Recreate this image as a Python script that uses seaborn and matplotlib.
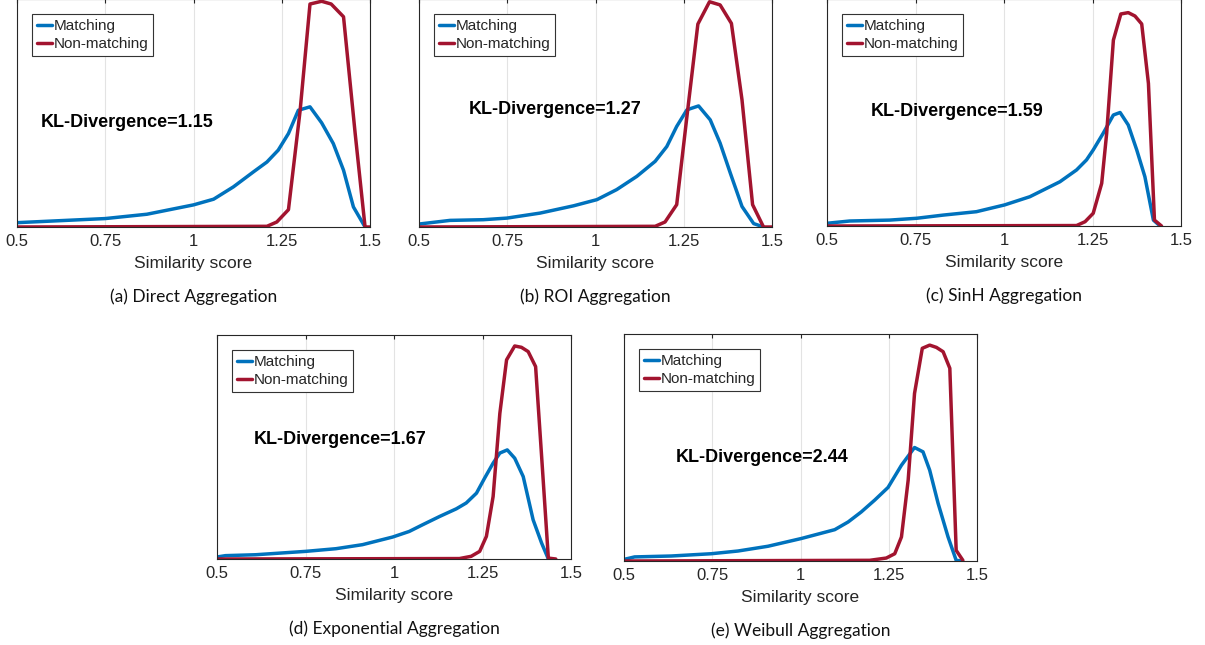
import numpy as np
import pandas as pd
import matplotlib.pyplot as plt
import seaborn as sns

# values, y in % of axes height
a_match_x = [0.5, 0.75, 0.868, 1.0, 1.057, 1.113, 1.17, 1.208, 1.24, 1.269, 1.297, 1.33, 1.363, 1.396, 1.425, 1.453, 1.486]
a_match_y = [1.9, 3.7, 5.6, 9.7, 12.2, 17.6, 24.2, 28.5, 33.7, 41, 51.2, 52.7, 45.7, 36.6, 24.9, 8.8, 0]
a_non_x = [0.5, 1.208, 1.236, 1.269, 1.302, 1.33, 1.363, 1.39, 1.425, 1.458, 1.486, 1.5]
a_non_y = [0, 0.3, 2.2, 7.6, 51, 97.8, 99, 97.8, 92.2, 41, 0, 0]

b_match_x = [0.5, 0.588, 0.682, 0.749, 0.843, 0.938, 1.004, 1.06, 1.117, 1.169, 1.202, 1.23, 1.259, 1.292, 1.325, 1.353, 1.382, 1.415, 1.448, 1.476]
b_match_y = [1.3, 2.9, 3.2, 3.9, 6.1, 9.3, 12, 16.4, 22.2, 28.8, 35.3, 44.1, 51.4, 53.1, 47, 36.8, 23.6, 9, 1.5, 0]
b_non_x = [0.5, 1.169, 1.197, 1.23, 1.259, 1.29, 1.323, 1.353, 1.385, 1.415, 1.445, 1.476, 1.5]
b_non_y = [0, 0.3, 2.2, 9.8, 48.5, 89, 98.8, 97.4, 89.3, 55.8, 9.8, 0, 0]

c_match_x = [0.5, 0.564, 0.677, 0.753, 0.828, 0.922, 1.002, 1.073, 1.158, 1.205, 1.233, 1.252, 1.28, 1.309, 1.328, 1.351, 1.375, 1.398, 1.422, 1.441]
c_match_y = [1.2, 2.2, 2.6, 3.4, 4.8, 6.3, 9.3, 12.9, 19.5, 24.7, 29.1, 33.5, 40.8, 48.9, 50, 44.5, 33.5, 21.7, 2.6, 0]
c_non_x = [0.5, 1.205, 1.229, 1.252, 1.276, 1.29, 1.309, 1.33, 1.351, 1.37, 1.389, 1.408, 1.425, 1.445]
c_non_y = [0, 0.2, 1.9, 5.6, 18.8, 40.8, 81.9, 93.4, 94, 92.5, 89, 62.8, 2.6, 0]

d_match_x = [0.5, 0.524, 0.609, 0.75, 0.836, 0.911, 0.996, 1.043, 1.081, 1.129, 1.176, 1.204, 1.233, 1.256, 1.28, 1.299, 1.32, 1.341, 1.365, 1.393, 1.417, 1.436]
d_match_y = [0.9, 1.5, 1.9, 3.4, 4.6, 6.4, 9.8, 12.3, 15.3, 19, 22.4, 25, 29.4, 36.1, 42.8, 47.3, 48.7, 45, 36.8, 17.5, 7.1, 0]
d_non_x = [0.5, 1.185, 1.218, 1.242, 1.261, 1.28, 1.299, 1.318, 1.341, 1.36, 1.379, 1.4, 1.417, 1.436, 1.457]
d_non_y = [0, 0.2, 1.2, 3.4, 10.1, 27.9, 65, 88.9, 95.1, 94.5, 92.6, 85.9, 45.8, 0.4, 0]

e_match_x = [0.5, 0.53, 0.634, 0.747, 0.823, 0.908, 1.002, 1.097, 1.135, 1.172, 1.21, 1.248, 1.286, 1.323, 1.347, 1.366, 1.39, 1.418, 1.441, 1.456]
e_match_y = [0.7, 1.8, 2.2, 3.2, 4.4, 6.5, 9.9, 13.8, 17.2, 21.6, 26.8, 32.4, 42.2, 50, 48.1, 40, 25.3, 10.6, 0.3, 0]
e_non_x = [0.5, 1.196, 1.243, 1.267, 1.286, 1.305, 1.323, 1.345, 1.366, 1.385, 1.404, 1.423, 1.441, 1.46]
e_non_y = [0, 0.3, 1.3, 3.2, 10.6, 35.6, 73.8, 93.7, 95.1, 94.1, 92.2, 84.9, 4.7, 0.3]

kl_values = ['1.15', '1.27', '1.59', '1.67', '2.44']
kl_pos = [(0.568, 46), (0.64, 51.4), (0.623, 50.4), (0.604, 53.5), (0.646, 45.6)]
captions = ['(a) Direct Aggregation', '(b) ROI Aggregation', '(c) SinH Aggregation',
            '(d) Exponential Aggregation', '(e) Weibull Aggregation']
xticks = [0.5, 0.75, 1, 1.25, 1.5]
xtick_labels = ['0.5', '0.75', '1', '1.25', '1.5']

panels = [
    (a_match_x, a_match_y, a_non_x, a_non_y),
    (b_match_x, b_match_y, b_non_x, b_non_y),
    (c_match_x, c_match_y, c_non_x, c_non_y),
    (d_match_x, d_match_y, d_non_x, d_non_y),
    (e_match_x, e_match_y, e_non_x, e_non_y),
]

# axes boxes in pixels: left, right, top, bottom
boxes = [(17, 370, -1, 227), (419, 772, -1, 227), (827, 1181, -1, 226),
         (217, 571, 335, 559), (624, 977, 334, 561)]

W, H = 1205, 645
sns.set_style('white')
plt.rcParams['font.family'] = ['Liberation Sans', 'DejaVu Sans']

blue = '#0072BD'
red = '#A2142F'
axis_col = '#262626'

fig = plt.figure(figsize=(W / 100, H / 100), dpi=100)

for i, (mx, my, nx, ny) in enumerate(panels):
    l, r, t, b = boxes[i]
    ax = fig.add_axes([l / W, 1 - b / H, (r - l) / W, (b - t) / H])
    dm = pd.DataFrame({'x': mx, 'y': my})
    dn = pd.DataFrame({'x': nx, 'y': ny})
    sns.lineplot(data=dm, x='x', y='y', ax=ax, color=blue, linewidth=2.5, label='Matching', sort=False)
    sns.lineplot(data=dn, x='x', y='y', ax=ax, color=red, linewidth=2.5, label='Non-matching', sort=False)
    ax.set_xlim(0.5, 1.5)
    ax.set_ylim(0, 100)
    ax.set_xticks(xticks)
    ax.set_xticklabels(xtick_labels)
    ax.set_yticks([])
    ax.set_ylabel('')
    ax.set_xlabel('Similarity score', fontsize=12.5, color=axis_col, labelpad=5)
    ax.tick_params(axis='x', direction='in', length=3, labelsize=12, colors=axis_col, pad=5, top=True)
    ax.xaxis.grid(True, color='#e3e3e3', linewidth=0.8)
    ax.set_axisbelow(True)
    for s in ax.spines.values():
        s.set_color(axis_col)
        s.set_linewidth(0.8)
    leg = ax.legend(loc='upper left', fontsize=11, handlelength=1.0, handletextpad=0.1,
                    borderpad=0.3, labelspacing=0.3, borderaxespad=1.0,
                    frameon=True, fancybox=False, framealpha=1)
    leg.get_frame().set_edgecolor('#333333')
    leg.get_frame().set_linewidth(0.8)
    kx, ky = kl_pos[i]
    ax.text(kx, ky, 'KL-Divergence=' + kl_values[i], fontsize=13, fontweight='bold',
            va='center', ha='left', color='black')
    cx = (l + r) / 2
    fig.text(cx / W, 1 - (b + 70) / H, captions[i], ha='center', va='center',
             fontsize=12.5, family=['Lato', 'DejaVu Sans'], color='#111111')

fig.savefig('out.png', dpi=100)
